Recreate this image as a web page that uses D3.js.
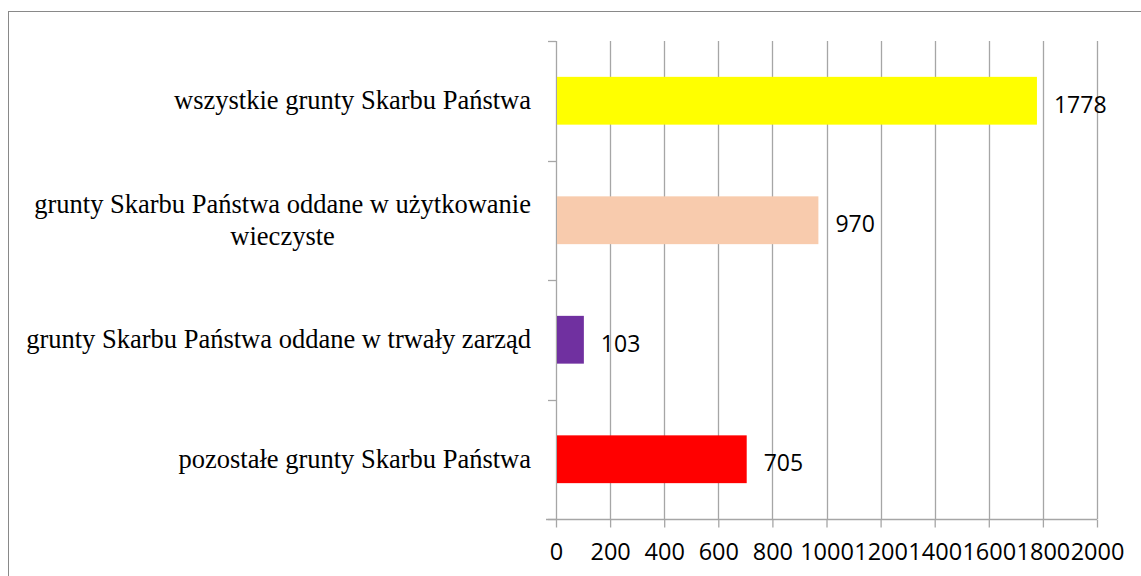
<!DOCTYPE html>
<html>
<head>
<meta charset="utf-8">
<script src="https://cdn.jsdelivr.net/npm/d3@7"></script>
<style>
  body { margin: 0; background: #fff; }
  svg { display: block; }
</style>
</head>
<body>
<div id="chart"></div>
<script>
const categories = [
  "wszystkie grunty Skarbu Państwa",
  "grunty Skarbu Państwa oddane w użytkowanie wieczyste",
  "grunty Skarbu Państwa oddane w trwały zarząd",
  "pozostałe grunty Skarbu Państwa"
];
const values = [1778, 970, 103, 705];
const colors = ["#ffff00", "#f8cbad", "#7030a0", "#ff0000"];
const xTicks = [0, 200, 400, 600, 800, 1000, 1200, 1400, 1600, 1800, 2000];

const W = 1141, H = 576;
const plot = {left: 556, right: 1097, top: 41, bottom: 519};
const gridColor = "#a6a6a6";

const data = categories.map((c, i) => ({name: c, value: values[i], color: colors[i]}));

const svg = d3.select("#chart").append("svg")
  .attr("width", W)
  .attr("height", H);

// outer chart border
svg.append("rect")
  .attr("x", 8.5).attr("y", 11.5)
  .attr("width", W).attr("height", H)
  .attr("fill", "none")
  .attr("stroke", "#898989");

const x = d3.scaleLinear().domain([0, 2000]).range([plot.left, plot.right]);
const y = d3.scaleBand().domain(categories).range([plot.top, plot.bottom])
  .paddingInner(0.6).paddingOuter(0.3);

// vertical gridlines
svg.append("g")
  .selectAll("line")
  .data(xTicks.slice(1))
  .enter().append("line")
  .attr("x1", d => Math.round(x(d)) + 0.5)
  .attr("x2", d => Math.round(x(d)) + 0.5)
  .attr("y1", plot.top)
  .attr("y2", plot.bottom)
  .attr("stroke", gridColor)
  .attr("stroke-width", 1.3);

// bottom axis
const xAxis = d3.axisBottom(x).tickValues(xTicks).tickFormat(d3.format("d"))
  .tickSize(8).tickSizeOuter(0);
const gx = svg.append("g")
  .attr("transform", "translate(0," + (plot.bottom + 0.5) + ")")
  .call(xAxis);
gx.select(".domain").remove();
gx.append("line")
  .attr("x1", plot.left - 10).attr("x2", plot.right)
  .attr("stroke", gridColor).attr("stroke-width", 1.3);
gx.selectAll(".tick line").attr("stroke", gridColor).attr("stroke-width", 1.3);
gx.selectAll(".tick text")
  .attr("y", 24)
  .attr("dy", "0.71em")
  .attr("fill", "#000")
  .style("font-family", "'Open Sans', sans-serif")
  .style("font-size", "23.5px");

// left category axis: line with ticks at band boundaries
const bounds = categories.map(c => y(c) - y.step() * y.paddingInner() / 2);
bounds[0] = plot.top;
bounds.push(plot.bottom);
const gy = svg.append("g");
gy.append("line")
  .attr("x1", plot.left + 0.5).attr("x2", plot.left + 0.5)
  .attr("y1", plot.top).attr("y2", plot.bottom)
  .attr("stroke", gridColor).attr("stroke-width", 1.3);
gy.selectAll(".ytick")
  .data(bounds)
  .enter().append("line")
  .attr("class", "ytick")
  .attr("x1", plot.left - 8).attr("x2", plot.left)
  .attr("y1", d => Math.round(d) + 0.5)
  .attr("y2", d => Math.round(d) + 0.5)
  .attr("stroke", gridColor).attr("stroke-width", 1.3);

// bars
svg.append("g")
  .selectAll("rect")
  .data(data)
  .enter().append("rect")
  .attr("x", x(0) + 1)
  .attr("y", d => y(d.name))
  .attr("width", d => x(d.value) - x(0) - 1)
  .attr("height", y.bandwidth())
  .attr("fill", d => d.color);

// value labels
svg.append("g")
  .selectAll("text")
  .data(data)
  .enter().append("text")
  .attr("x", d => x(d.value) + 17)
  .attr("y", d => y(d.name) + y.bandwidth() / 2 + 4)
  .attr("dy", "0.35em")
  .style("font-family", "'Open Sans', sans-serif")
  .style("font-size", "23px")
  .attr("fill", "#000")
  .text(d => d.value);

// category labels, wrapped like the spreadsheet does
const labelRight = 531, wrapWidth = 515, lineHeight = 32;
const labels = svg.append("g")
  .style("font-family", "'Liberation Serif', 'Times New Roman', serif")
  .style("font-size", "26.5px")
  .attr("fill", "#000");

data.forEach(d => {
  const t = labels.append("text");
  const words = d.name.split(" ");
  const lines = [];
  let line = [];
  const probe = t.append("tspan");
  words.forEach(w => {
    line.push(w);
    probe.text(line.join(" "));
    if (probe.node().getComputedTextLength() > wrapWidth && line.length > 1) {
      line.pop();
      lines.push(line.join(" "));
      line = [w];
    }
  });
  lines.push(line.join(" "));
  probe.remove();

  const widths = lines.map(l => { const s = t.append("tspan").text(l); const w = s.node().getComputedTextLength(); s.remove(); return w; });
  const maxW = d3.max(widths);
  const cx = labelRight - maxW / 2;
  const cy = y(d.name) + y.bandwidth() / 2;
  const y0 = cy - (lines.length - 1) * lineHeight / 2;
  lines.forEach((l, i) => {
    t.append("tspan")
      .attr("x", lines.length > 1 ? cx : labelRight)
      .attr("y", y0 + i * lineHeight)
      .attr("dy", "0.32em")
      .attr("text-anchor", lines.length > 1 ? "middle" : "end")
      .text(l);
  });
});
</script>
</body>
</html>
